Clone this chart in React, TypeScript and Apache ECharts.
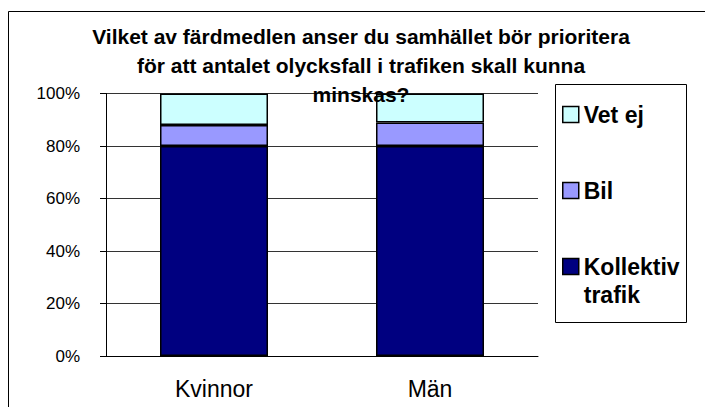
import React, { useEffect, useRef } from "react";
import * as echarts from "echarts";

const categories = ["Kvinnor", "Män"];
const seriesNames = ["Kollektiv trafik", "Bil", "Vet ej"];
const kollektivValues = [80, 80];
const bilValues = [8, 9];
const vetEjValues = [12, 11];
const legendOrder = ["Vet ej", "Bil", "Kollektiv trafik"];
const titleLines = [
  "Vilket av färdmedlen anser du samhället bör prioritera",
  "för att antalet olycksfall i trafiken skall kunna",
  "minskas?",
];

const FONT = '"Liberation Sans", Arial, Helvetica, sans-serif';

export default function App() {
  const ref = useRef<HTMLDivElement>(null);
  useEffect(() => {
    if (!ref.current) return;
    const chart = echarts.init(ref.current, null, { renderer: "svg" });
    const colors = ["#000080", "#9999FF", "#CCFFFF"];
    const values = [kollektivValues, bilValues, vetEjValues];
    chart.setOption({
      animation: false,
      backgroundColor: "#fff",
      title: {
        text: titleLines.join("\n"),
        left: 361,
        top: 22,
        padding: 0,
        textAlign: "center",
        textStyle: {
          fontFamily: FONT,
          fontSize: 21,
          fontWeight: "bold",
          color: "#000",
          lineHeight: 29,
        },
      },
      grid: { left: 106, top: 93.5, right: 167, bottom: 51, containLabel: false },
      legend: {
        orient: "vertical",
        left: 562,
        top: 72.5,
        padding: 0,
        itemGap: -8,
        itemWidth: 16,
        itemHeight: 16,
        icon: "rect",
        selectedMode: false,
        data: legendOrder,
        itemStyle: { borderColor: "#000", borderWidth: 1.5 },
        formatter: (name: string) =>
          name === "Kollektiv trafik" ? "\nKollektiv\ntrafik" : "\n" + name + "\n ",
        textStyle: {
          fontFamily: FONT,
          fontSize: 23,
          fontWeight: "bold",
          color: "#000",
          lineHeight: 28,
        },
      },
      xAxis: {
        type: "category",
        data: categories,
        axisLine: { lineStyle: { color: "#000", width: 1 } },
        axisTick: { length: 7, lineStyle: { color: "#000" } },
        axisLabel: {
          margin: 21,
          fontFamily: FONT,
          fontSize: 23,
          color: "#000",
        },
      },
      yAxis: {
        type: "value",
        min: 0,
        max: 100,
        interval: 20,
        axisLine: { show: true, lineStyle: { color: "#000", width: 1 } },
        axisTick: { show: true, length: 6, lineStyle: { color: "#000" } },
        axisLabel: {
          formatter: "{value}%",
          margin: 26,
          fontFamily: FONT,
          fontSize: 17,
          color: "#000",
        },
        splitLine: { show: true, lineStyle: { color: "#333", width: 1 } },
      },
      series: seriesNames.map((name, i) => ({
        name,
        type: "bar",
        stack: "total",
        barWidth: "50%",
        data: values[i],
        itemStyle: { color: colors[i], borderColor: "#000", borderWidth: 1.5 },
      })),
      graphic: [
        {
          type: "rect",
          shape: { x: 555.5, y: 84.5, width: 131, height: 238 },
          style: { fill: "none", stroke: "#000", lineWidth: 1 },
          z: 0,
        },
        {
          type: "rect",
          shape: { x: 8.5, y: 11.5, width: 720, height: 420 },
          style: { fill: "none", stroke: "#000", lineWidth: 1 },
          z: 0,
        },
      ],
    });
    return () => chart.dispose();
  }, []);
  return (
    <div
      ref={ref}
      style={{ position: "absolute", left: 0, top: 0, width: 705, height: 407 }}
    />
  );
}
